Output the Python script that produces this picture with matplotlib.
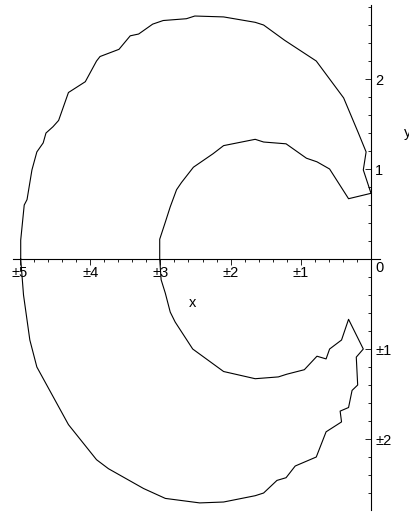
import matplotlib
matplotlib.use("Agg")
import matplotlib.pyplot as plt
import numpy as np

# closed curve (outer top -> inner -> spike -> outer bottom)
xs = [-4.99, -4.99, -4.94, -4.90, -4.83, -4.76, -4.67, -4.63, -4.53, -4.45,
      -4.31, -4.07, -3.91, -3.86, -3.59, -3.43, -3.31, -3.11, -2.96, -2.63,
      -2.51, -2.10, -1.65, -1.53, -1.23, -0.78, -0.39, -0.32, -0.18, -0.07,
      -0.11, 0.00,
      -0.32, -0.59, -0.77, -0.92, -1.21, -1.53, -1.65, -2.10, -2.25, -2.53,
      -2.70, -2.77, -2.86, -2.93, -3.01, -3.01,
      -2.99, -2.93, -2.86, -2.79, -2.54, -2.10, -1.65, -1.32, -1.20, -0.95,
      -0.77, -0.64, -0.59, -0.42, -0.32,
      -0.11, -0.21, -0.19, -0.27, -0.32, -0.44, -0.42, -0.64, -0.78, -1.08,
      -1.21, -1.34, -1.53, -1.65, -2.10, -2.44, -2.93, -3.24, -3.74, -3.91,
      -4.31, -4.76, -4.86, -4.95, -4.99]
ys = [0.00, 0.21, 0.60, 0.66, 0.99, 1.19, 1.29, 1.40, 1.47, 1.54,
      1.85, 1.97, 2.20, 2.25, 2.33, 2.48, 2.50, 2.61, 2.65, 2.67,
      2.70, 2.69, 2.63, 2.60, 2.43, 2.20, 1.79, 1.66, 1.40, 1.19,
      0.99, 0.73,
      0.67, 1.00, 1.08, 1.12, 1.28, 1.30, 1.33, 1.26, 1.17, 1.02,
      0.85, 0.77, 0.58, 0.41, 0.22, 0.00,
      -0.23, -0.38, -0.59, -0.70, -1.00, -1.25, -1.33, -1.31, -1.28, -1.23,
      -1.08, -1.11, -1.00, -0.90, -0.67,
      -1.00, -1.09, -1.40, -1.46, -1.65, -1.69, -1.81, -1.92, -2.20, -2.30,
      -2.43, -2.46, -2.60, -2.63, -2.70, -2.71, -2.66, -2.55, -2.33, -2.23,
      -1.84, -1.20, -0.90, -0.40, 0.00]

xticks = [-5, -4, -3, -2, -1]
xlabels = ["±5", "±4", "±3", "±2", "±1"]
yticks = [-2, -1, 1, 2]
ylabels = ["±2", "±1", "1", "2"]

plt.rcParams['font.family'] = ['Liberation Sans', 'DejaVu Sans']
FS = 10.5

fig = plt.figure(figsize=(4.09, 5.12), dpi=100)
ax = fig.add_axes([0, 0, 1, 1])
ax.plot(xs, ys, color='black', lw=0.8)

ax.set_xlim(-5.285, 0.541)
ax.set_ylim(-2.811, 2.878)

for s in ['top', 'left']:
    ax.spines[s].set_visible(False)
ax.spines['bottom'].set_position(('data', 0))
ax.spines['bottom'].set_bounds(-5.1, 0.13)
ax.spines['right'].set_position(('data', 0))
ax.spines['right'].set_bounds(-2.79, 2.82)
for s in ['bottom', 'right']:
    ax.spines[s].set_linewidth(0.8)

ax.xaxis.tick_bottom()
ax.yaxis.tick_right()
ax.set_xticks(xticks)
ax.set_xticklabels(xlabels)
ax.set_xticks(np.arange(-5.0, 0.01, 0.2), minor=True)
ax.set_yticks(yticks)
ax.set_yticklabels(ylabels)
ax.set_yticks(np.arange(-2.6, 2.81, 0.2), minor=True)

ax.tick_params(axis='x', which='major', direction='out', length=4, width=0.6,
               labelsize=FS, pad=1)
ax.tick_params(axis='x', which='minor', direction='out', length=2, width=0.6)
ax.tick_params(axis='y', which='major', direction='in', length=4, width=0.6,
               labelsize=FS, pad=3)
ax.tick_params(axis='y', which='minor', direction='in', length=2, width=0.6)

ax.text(0.06, -0.02, "0", fontsize=FS, ha='left', va='top')
ax.text(-2.54, -0.49, "x", fontsize=FS, ha='center', va='center')
ax.text(0.47, 1.40, "y", fontsize=FS, ha='left', va='center')

fig.savefig("out.png", dpi=100)
